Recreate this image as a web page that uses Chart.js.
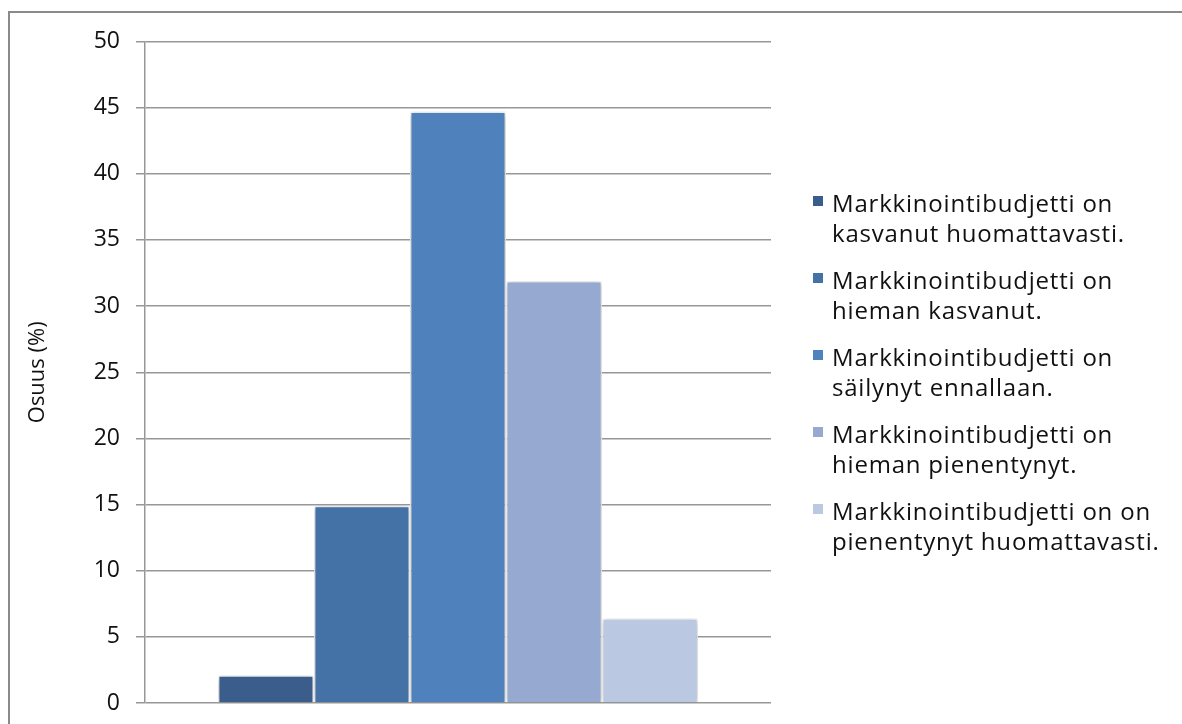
<!DOCTYPE html>
<html>
<head>
<meta charset="utf-8">
<script src="https://cdn.jsdelivr.net/npm/chart.js@4/dist/chart.umd.min.js"></script>
<style>
  html, body { margin: 0; padding: 0; background: #fff; }
  #wrap { position: relative; width: 1182px; height: 724px; }
</style>
</head>
<body>
<div id="wrap"><canvas id="c" width="1182" height="724"></canvas></div>
<script>
// Survey answers: how the marketing budget has changed (share of respondents, %)
const categories = [''];
const seriesLabels = [
  ['Markkinointibudjetti on', 'kasvanut huomattavasti.'],
  ['Markkinointibudjetti on', 'hieman kasvanut.'],
  ['Markkinointibudjetti on', 'säilynyt ennallaan.'],
  ['Markkinointibudjetti on', 'hieman pienentynyt.'],
  ['Markkinointibudjetti on on', 'pienentynyt huomattavasti.']
];
const seriesValues = [2.1, 14.9, 44.7, 31.9, 6.4];
const seriesColors = ['#3A5D8C', '#4472A6', '#4F81BD', '#95A9D1', '#BBC8E1'];
const yTicks = [0, 5, 10, 15, 20, 25, 30, 35, 40, 45, 50];
const yTitle = 'Osuus (%)';

const FONT = '"Open Sans", "DejaVu Sans", sans-serif';

const datasets = seriesValues.map((v, i) => ({
  label: seriesLabels[i].join(' '),
  data: [v],
  backgroundColor: seriesColors[i],
  borderColor: '#ffffff',
  borderWidth: 1.5,
  categoryPercentage: 0.767,
  barPercentage: 1.0
}));

// Outer frame around the whole chart
const framePlugin = {
  id: 'frame',
  beforeDraw(chart) {
    const ctx = chart.ctx;
    ctx.save();
    ctx.strokeStyle = '#8a8a8a';
    ctx.lineWidth = 2;
    ctx.strokeRect(9, 12, 1200, 740);
    ctx.restore();
  }
};

// Soft shadow under the bars
const shadowPlugin = {
  id: 'barShadow',
  beforeDatasetsDraw(chart) {
    const ctx = chart.ctx;
    ctx.save();
    ctx.shadowColor = 'rgba(0,0,0,0.3)';
    ctx.shadowBlur = 6;
    ctx.shadowOffsetX = 0;
    ctx.shadowOffsetY = 1;
  },
  afterDatasetsDraw(chart) {
    chart.ctx.restore();
  }
};

// Two-line legend on the right side
const sideLegend = {
  id: 'sideLegend',
  afterDraw(chart) {
    const ctx = chart.ctx;
    ctx.save();
    ctx.font = '24px ' + FONT;
    ctx.fillStyle = '#111';
    ctx.textBaseline = 'alphabetic';
    if ('letterSpacing' in ctx) ctx.letterSpacing = '0.8px';
    const x0 = 813, tx = 832, y0 = 212, step = 77, lh = 30;
    chart.data.datasets.forEach((ds, i) => {
      const y = y0 + i * step;
      ctx.fillStyle = ds.backgroundColor;
      ctx.fillRect(x0, y - 16, 10, 10);
      ctx.fillStyle = '#111';
      seriesLabels[i].forEach((line, j) => ctx.fillText(line, tx, y + j * lh));
    });
    ctx.restore();
  }
};

new Chart(document.getElementById('c'), {
  type: 'bar',
  data: { labels: categories, datasets },
  options: {
    responsive: false,
    animation: false,
    layout: { padding: { left: 0, right: 411, top: 41.5, bottom: 21 } },
    plugins: { legend: { display: false }, tooltip: { enabled: false } },
    scales: {
      x: { display: false },
      y: {
        min: 0,
        max: 50,
        afterBuildTicks(scale) { scale.ticks = yTicks.map(v => ({ value: v })); },
        afterFit(scale) {
          scale.width = 145;
          scale.paddingTop = 0;
          scale.paddingBottom = 0;
        },
        ticks: {
          font: { family: FONT, size: 23 },
          color: '#111',
          padding: 16
        },
        grid: { color: '#979797', lineWidth: 1.5, tickLength: 9 },
        border: { color: '#979797', width: 1.5 },
        title: {
          display: true,
          text: yTitle,
          font: { family: FONT, size: 22 },
          color: '#111',
          padding: { top: 25, bottom: 0 }
        }
      }
    }
  },
  plugins: [framePlugin, shadowPlugin, sideLegend]
});
</script>
</body>
</html>
